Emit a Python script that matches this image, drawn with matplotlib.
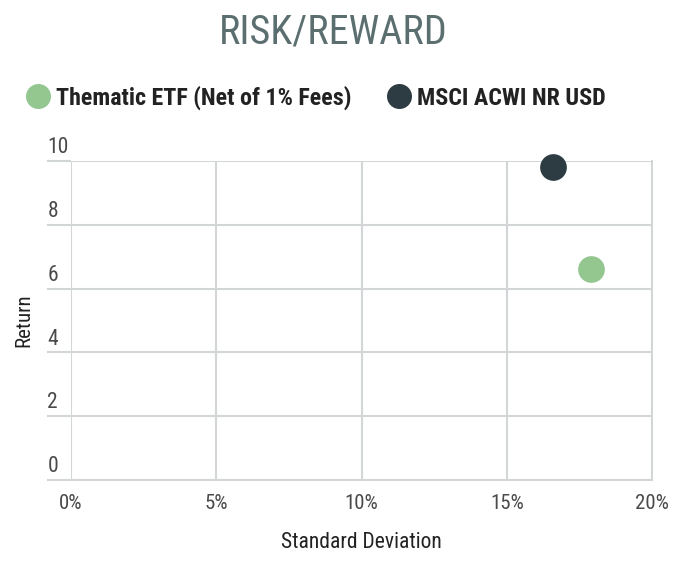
#!/usr/bin/env python3
# -*- coding: utf-8 -*-
"""
Risk/Reward scatter: Thematic ETF vs MSCI ACWI NR USD
"""

import matplotlib
matplotlib.use('Agg')
import matplotlib.pyplot as plt
import matplotlib.transforms as mtransforms
from matplotlib.lines import Line2D
from matplotlib.ticker import FuncFormatter

plt.rcParams['font.family'] = ['Roboto Condensed', 'Roboto', 'DejaVu Sans']

# data (std dev in %, return)
series_names = ['Thematic ETF (Net of 1% Fees)', 'MSCI ACWI NR USD']
std_dev = [17.9, 16.6]
returns = [6.6, 9.8]
colors = ['#93c78f', '#2c3c42']

x_ticks = [0, 5, 10, 15, 20]
y_ticks = [0, 2, 4, 6, 8, 10]

GRID = '#d3d6d6'
TICK_TXT = '#4a4a4a'


def main():
    fig = plt.figure(figsize=(6.86, 5.61), dpi=100)
    ax = fig.add_axes([71 / 686, 81 / 561, 581 / 686, 319 / 561])

    for i in range(len(series_names)):
        ax.scatter(std_dev[i], returns[i], s=370, color=colors[i],
                   zorder=3, clip_on=False, linewidths=0)

    ax.set_xlim(0, 20)
    ax.set_ylim(0, 10)
    ax.set_xticks(x_ticks)
    ax.set_yticks(y_ticks)
    ax.xaxis.set_major_formatter(FuncFormatter(lambda v, p: f'{int(v)}%'))

    ax.grid(True, color=GRID, linewidth=1.5)
    ax.set_axisbelow(True)
    for side in ['top', 'left']:
        ax.spines[side].set_visible(False)
    for side in ['right', 'bottom']:
        ax.spines[side].set_color(GRID)
        ax.spines[side].set_linewidth(1.5)

    # y ticks: long grey marks with the labels sitting on top of them
    ax.tick_params(axis='y', length=17, width=1.5, color=GRID, pad=0,
                   labelsize=15.5, labelcolor=TICK_TXT)
    ax.tick_params(axis='x', length=0, pad=10, labelsize=15, labelcolor=TICK_TXT)
    offset = mtransforms.ScaledTranslation(0, 2 / 72, fig.dpi_scale_trans)
    for lab in ax.get_yticklabels():
        lab.set_horizontalalignment('left')
        lab.set_verticalalignment('bottom')
        lab.set_transform(lab.get_transform() + offset)

    ax.set_xlabel('Standard Deviation', fontsize=15.5, color='#222222', labelpad=14)
    ax.set_ylabel('Return', fontsize=15, color='#222222', labelpad=10)

    fig.text(0.486, 1 - 32 / 561, 'RISK/REWARD', ha='center', va='center',
             fontsize=29, color='#5c6f70', fontweight='normal')

    handles = [Line2D([], [], linestyle='none', marker='o', markersize=18,
                      markerfacecolor=c, markeredgewidth=0) for c in colors]
    fig.legend(handles, series_names, loc='center left',
               bbox_to_anchor=(4 / 686, 1 - 98 / 561), ncol=2, frameon=False,
               handletextpad=0.25, columnspacing=1.5, handlelength=1.0,
               prop={'size': 17.3, 'weight': 'bold'}, labelcolor='#222222')

    plt.savefig('out.png', dpi=100)


if __name__ == '__main__':
    main()
